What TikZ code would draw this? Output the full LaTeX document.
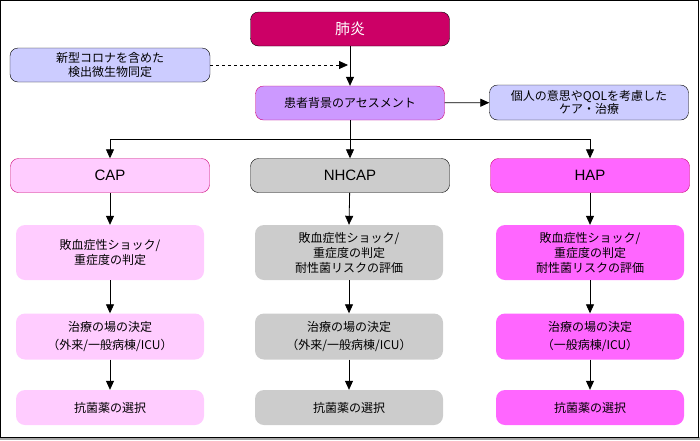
\documentclass[tikz,border=0pt]{standalone}
\usepackage{fontspec}
\setmainfont{Noto Sans CJK JP}
\newfontfamily\latinfont{Liberation Sans}
\usetikzlibrary{arrows.meta,positioning,calc}
\definecolor{pneu}{HTML}{CC0066}
\definecolor{lav}{HTML}{CCCCFF}
\definecolor{assess}{HTML}{CC99FF}
\definecolor{capc}{HTML}{FFCCFF}
\definecolor{nhcapc}{HTML}{CCCCCC}
\definecolor{hapc}{HTML}{FF66FF}
\definecolor{edge}{HTML}{CC0077}

\begin{document}
\begin{tikzpicture}[x=1pt, y=-1pt,
  box/.style={rounded corners=8pt, minimum height=34pt, minimum width=199pt, align=center, font=\fontsize{12}{13.5}\selectfont, inner sep=0pt},
  head/.style={box, font=\fontsize{15}{17}\selectfont},
  stepbox/.style={rounded corners=9pt, minimum width=188pt, align=center, font=\fontsize{12}{15}\selectfont, inner sep=0pt},
  arr/.style={-{Triangle[length=9pt,width=8pt]}, line width=0.8pt}
]
  % frame
  \fill[gray!70] (0,437) rectangle (700,440);
  \draw[line width=1pt] (0.5,0.5) rectangle (698.5,437);

  % top part
  \node[head, fill=pneu, draw=black, text=white] (pn) at (350,29) {肺炎};
  \node[box, fill=lav, draw=black, minimum width=200pt] (micro) at (110,65) {新型コロナを含めた\\検出微生物同定};
  \node[box, fill=assess, draw=edge, minimum width=189pt] (as) at (350,103) {患者背景のアセスメント};
  \node[box, fill=lav, draw=black, minimum width=199pt, minimum height=35pt] (qol) at (589,102.5) {個人の意思やQOLを考慮した\\ケア・治療};
  \coordinate (mid) at (pn.south |- micro.east);
  \draw[arr] (pn) -- (as);
  \draw[arr, dashed] (micro) -- ($(mid)+(-2,0)$);
  \draw[arr] (as) -- (qol);

  % three columns
  \node[head, fill=capc, draw=edge] (cap) at (110,175.5) {\latinfont CAP};
  \node[head, fill=nhcapc, draw=black] (nhcap) at (350,175.5) {\latinfont NHCAP};
  \node[head, fill=hapc, draw=edge] (hap) at (590,175.5) {\latinfont HAP};
  \coordinate (split) at (350,139);
  \draw[line width=0.8pt] (as.south) -- (split) (cap |- split) -- (hap |- split);
  \foreach \c in {cap,nhcap,hap}{\draw[arr] (\c |- split) -- (\c);}

  \node[stepbox, fill=capc, minimum height=55pt] (cap1) at (110,252.5) {敗血症性ショック/\\重症度の判定};
  \node[stepbox, fill=nhcapc, minimum height=55pt] (nhcap1) at (349,252.5) {敗血症性ショック/\\重症度の判定\\耐性菌リスクの評価};
  \node[stepbox, fill=hapc, minimum height=55pt] (hap1) at (590,252.5) {敗血症性ショック/\\重症度の判定\\耐性菌リスクの評価};

  \tikzset{wide/.style={stepbox, minimum height=46pt, font=\fontsize{12}{18}\selectfont}}
  \node[wide, fill=capc] (cap2) at (110,336.5) {治療の場の決定\\（外来/一般病棟/ICU）};
  \node[wide, fill=nhcapc] (nhcap2) at (349,336.5) {治療の場の決定\\（外来/一般病棟/ICU）};
  \node[wide, fill=hapc] (hap2) at (590,336.5) {治療の場の決定\\（一般病棟/ICU）};

  \node[stepbox, fill=capc, minimum height=35pt] (cap3) at (110,407.5) {抗菌薬の選択};
  \node[stepbox, fill=nhcapc, minimum height=35pt] (nhcap3) at (349,407.5) {抗菌薬の選択};
  \node[stepbox, fill=hapc, minimum height=35pt] (hap3) at (590,407.5) {抗菌薬の選択};

  \foreach \c in {cap,nhcap,hap}{
    \draw[arr] (\c) -- (\c1 |- \c1.north);
    \draw[arr] (\c1) -- (\c2 |- \c2.north);
    \draw[arr] (\c2) -- (\c3 |- \c3.north);
  }
\end{tikzpicture}
\end{document}
